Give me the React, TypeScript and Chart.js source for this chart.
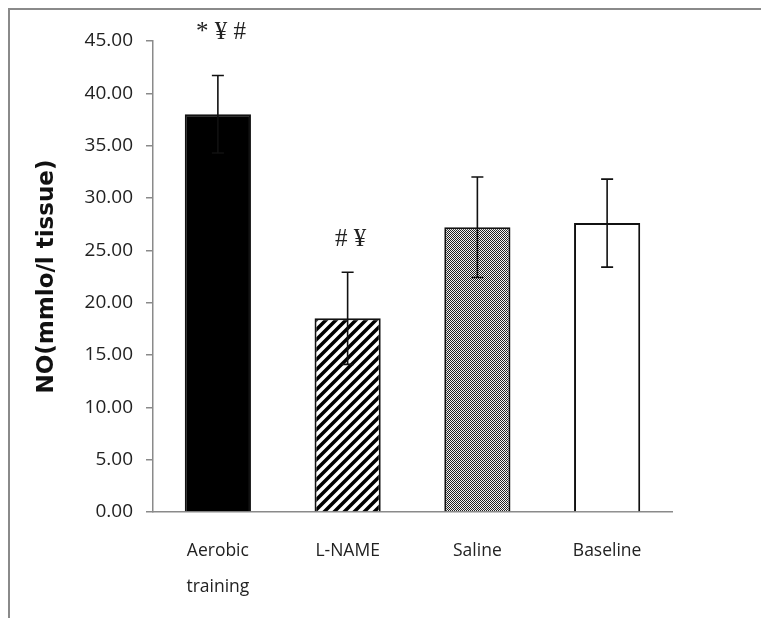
import { useEffect, useRef } from "react";
import { Chart, registerables } from "chart.js";

Chart.register(...registerables);

const categories: (string | string[])[] = [["Aerobic", "training"], "L-NAME", "Saline", "Baseline"];
const means = [38.0, 18.5, 27.2, 27.6];
const errors = [3.7, 4.4, 4.8, 4.2];
const annotations = ["* ¥ #", "# ¥", "", ""];
const annotationY = [45.8, 26.0, 0, 0];
const yTicks = [0, 5, 10, 15, 20, 25, 30, 35, 40, 45];

function stripePattern(): CanvasPattern | string {
  const c = document.createElement("canvas");
  c.width = 10;
  c.height = 10;
  const x = c.getContext("2d")!;
  x.fillStyle = "#fff";
  x.fillRect(0, 0, 10, 10);
  x.strokeStyle = "#000";
  x.lineWidth = 3.5;
  x.lineCap = "square";
  const seg = (a: number, b: number, cc: number, d: number) => {
    x.beginPath();
    x.moveTo(a, b);
    x.lineTo(cc, d);
    x.stroke();
  };
  seg(-2, 12, 12, -2);
  seg(-7, 7, 7, -7);
  seg(3, 17, 17, 3);
  return x.createPattern(c, "repeat") || "#000";
}

function checkerPattern(): CanvasPattern | string {
  const c = document.createElement("canvas");
  c.width = 2;
  c.height = 2;
  const x = c.getContext("2d")!;
  x.fillStyle = "#f4f4f4";
  x.fillRect(0, 0, 2, 2);
  x.fillStyle = "#222";
  x.fillRect(0, 0, 1, 1);
  x.fillRect(1, 1, 1, 1);
  return x.createPattern(c, "repeat") || "#888";
}

const extrasPlugin = {
  id: "extras",
  beforeDraw(chart: any) {
    const ctx = chart.ctx;
    ctx.save();
    ctx.fillStyle = "#fff";
    ctx.fillRect(0, 0, chart.width, chart.height);
    ctx.strokeStyle = "#8a8a8a";
    ctx.lineWidth = 2;
    ctx.beginPath();
    ctx.moveTo(1, chart.height);
    ctx.lineTo(1, 1);
    ctx.lineTo(chart.width, 1);
    ctx.stroke();
    ctx.restore();
  },
  afterDatasetsDraw(chart: any) {
    const ctx = chart.ctx;
    const meta = chart.getDatasetMeta(0);
    const ys = chart.scales.y;
    ctx.save();
    ctx.strokeStyle = "#111";
    ctx.lineWidth = 1.6;
    meta.data.forEach((bar: any, i: number) => {
      const x = bar.x;
      const yHi = ys.getPixelForValue(means[i] + errors[i]);
      const yLo = ys.getPixelForValue(means[i] - errors[i]);
      ctx.beginPath();
      ctx.moveTo(x, yLo);
      ctx.lineTo(x, yHi);
      ctx.moveTo(x - 6, yHi);
      ctx.lineTo(x + 6, yHi);
      ctx.moveTo(x - 6, yLo);
      ctx.lineTo(x + 6, yLo);
      ctx.stroke();
      if (annotations[i]) {
        ctx.fillStyle = "#222";
        ctx.font = "25px 'Liberation Serif'";
        ctx.textAlign = "center";
        ctx.textBaseline = "middle";
        ctx.fillText(annotations[i], x + 3, ys.getPixelForValue(annotationY[i]));
      }
    });
    ctx.restore();
  },
};

export default function App() {
  const ref = useRef<HTMLCanvasElement>(null);
  useEffect(() => {
    document.documentElement.style.overflow = "hidden";
    document.body.style.overflow = "hidden";
    if (!ref.current) return;
    const fills = ["#000", stripePattern(), checkerPattern(), "#fff"];
    const chart = new Chart(ref.current, {
      type: "bar",
      data: {
        labels: categories,
        datasets: [
          {
            data: means,
            backgroundColor: fills as any,
            borderColor: "#111",
            borderWidth: 2,
            borderSkipped: "bottom",
            categoryPercentage: 1,
            barPercentage: 0.51,
          },
        ],
      },
      options: {
        responsive: false,
        animation: false,
        events: [],
        layout: { padding: { left: 0, right: 89, top: 33, bottom: 0 } },
        plugins: { legend: { display: false }, tooltip: { enabled: false } },
        scales: {
          y: {
            min: 0,
            max: 45,
            afterFit: (s: any) => {
              s.width = 145;
            },
            afterBuildTicks: (s: any) => {
              s.ticks = yTicks.map((v) => ({ value: v }));
            },
            ticks: {
              color: "#222",
              padding: 13,
              font: { family: "'Open Sans'", size: 19 },
              callback: (v: any) => Number(v).toFixed(2),
            },
            grid: { display: true, drawOnChartArea: false, drawTicks: true, tickLength: 7, color: "#8a8a8a", lineWidth: 1.5 },
            border: { display: true, color: "#8a8a8a", width: 1.5 },
            title: {
              display: true,
              text: "NO(mmlo/l tissue)",
              color: "#111",
              font: { family: "'DejaVu Sans'", size: 23, weight: "bold" },
              padding: { top: 25, bottom: 0 },
            },
          },
          x: {
            afterFit: (s: any) => {
              s.height = 106;
            },
            ticks: {
              color: "#222",
              padding: 21,
              font: { family: "'Open Sans'", size: 17.5, lineHeight: 2.05 },
            },
            grid: { display: false, drawTicks: false },
            border: { display: true, color: "#8a8a8a", width: 1.5 },
          },
        },
      },
      plugins: [extrasPlugin],
    });
    return () => chart.destroy();
  }, []);
  return (
    <div style={{ position: "fixed", left: 8, top: 8, width: 753, height: 610 }}>
      <canvas ref={ref} width={753} height={610} style={{ display: "block" }} />
    </div>
  );
}
